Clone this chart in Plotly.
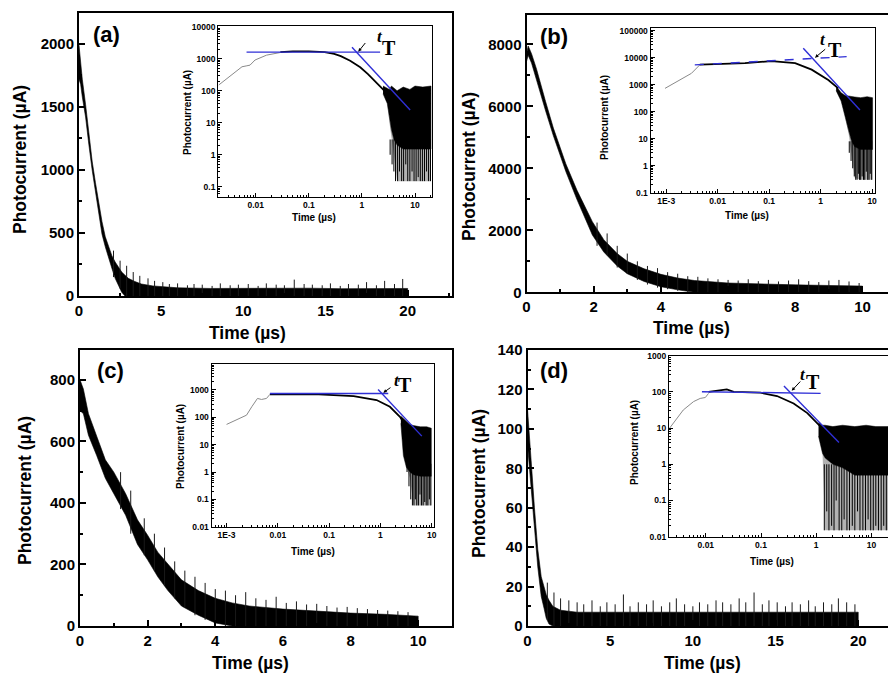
import plotly.graph_objects as go

W, H = 888, 675
FONT = "Liberation Sans"
SERIF = "Liberation Serif"
BLUE = "#2f2fd6"

# ---------------- main panels: decays as core envelopes (time, upper, lower) + noise spikes ----------------
a_t = [0, 0.1, 0.2, 0.4, 0.6, 0.8, 1.0, 1.2, 1.4, 1.6, 1.8, 2.0, 2.2, 2.4, 2.6, 2.8, 3.0, 3.4, 3.8,
       4.5, 6, 8, 10, 12, 14, 16, 18, 20]
a_up = [1990, 1850, 1720, 1520, 1280, 1070, 900, 730, 590, 470, 400, 320, 270, 230, 190, 165, 140, 115, 95,
        80, 65, 60, 62, 60, 62, 58, 60, 60]
a_lo = [1720, 1680, 1580, 1420, 1200, 1000, 830, 650, 490, 390, 300, 220, 140, 80, 30, 0, 0, 0, 0,
        0, 0, 0, 0, 0, 0, 0, 0, 0]
a_sp_t = [2.1, 2.5, 2.9, 3.3, 3.7, 4.2, 4.6, 5.1, 5.5, 6.0, 6.6, 7.0, 7.5, 8.1, 8.6, 9.2, 9.7, 10.3,
          10.9, 11.4, 12.0, 12.5, 13.1, 13.7, 14.2, 14.8, 15.3, 15.9, 16.4, 17.0, 17.5, 18.1, 18.6,
          19.2, 19.7]
a_sp_lo = [150, 60, 0, 0, 0, 0, 0, 0, 0, 0, 0, 0, 0, 0, 0, 0, 0, 0, 0, 0,
           0, 0, 0, 0, 0, 0, 0, 0, 0, 0, 0, 0, 0, 0, 0]
a_sp_h = [360, 280, 240, 190, 160, 140, 120, 110, 95, 100, 85, 95, 90, 80, 100, 85, 90, 95, 80, 100,
          90, 85, 130, 95, 90, 85, 100, 80, 95, 90, 110, 85, 120, 95, 135]

b_t = [0, 0.05, 0.15, 0.3, 0.57, 0.8, 1.17, 1.5, 1.96, 2.3, 2.7, 3.0, 3.5, 4.0, 4.5, 5, 6, 7, 8, 9, 10]
b_up = [7700, 7950, 7700, 7200, 6150, 5300, 4150, 3300, 2280, 1700, 1250, 1000, 760, 580, 460, 380, 300,
        260, 240, 220, 200]
b_lo = [7450, 7650, 7400, 6850, 5850, 5050, 3900, 3000, 1850, 1300, 850, 600, 350, 180, 80, 0, 0, 0, 0, 0, 0]
b_sp_t = [2.1, 2.4, 2.7, 3.0, 3.3, 3.6, 3.9, 4.2, 4.5, 4.8, 5.1, 5.4, 5.7, 6.0, 6.3, 6.6, 6.9, 7.2, 7.5,
          7.8, 8.1, 8.4, 8.7, 9.0, 9.3, 9.6, 9.9]
b_sp_lo = [1500, 1200, 800, 600, 400, 250, 150, 100, 50, 0, 0, 0, 0, 0, 0, 0, 0, 0, 0,
           0, 0, 0, 0, 0, 0, 0, 0]
b_sp_h = [2250, 1900, 1500, 1250, 1000, 850, 780, 650, 600, 520, 500, 450, 420, 400, 380, 420, 360, 400,
          350, 380, 420, 360, 330, 380, 400, 350, 300]

c_t = [0, 0.1, 0.25, 0.49, 0.75, 1.0, 1.35, 1.7, 2.0, 2.3, 2.6, 3.0, 3.5, 4.0, 4.5, 5, 6, 7, 8, 9, 10]
c_up = [800, 770, 690, 620, 540, 500, 430, 345, 295, 240, 200, 150, 115, 90, 75, 65, 55, 48, 42, 38, 32]
c_lo = [700, 690, 620, 555, 480, 430, 360, 265, 215, 160, 115, 65, 35, 10, 0, 0, 0, 0, 0, 0, 0]
c_sp_t = [1.2, 1.5, 1.9, 2.2, 2.5, 2.8, 3.1, 3.4, 3.7, 4.0, 4.3, 4.6, 4.9, 5.2, 5.5, 5.8, 6.1, 6.4, 6.7,
          7.0, 7.3, 7.6, 7.9, 8.2, 8.5, 8.8, 9.1, 9.4, 9.7]
c_sp_lo = [380, 300, 230, 180, 130, 90, 60, 35, 20, 0, 0, 0, 0, 0, 0, 0, 0, 0, 0,
           0, 0, 0, 0, 0, 0, 0, 0, 0, 0]
c_sp_h = [500, 440, 350, 300, 255, 210, 180, 160, 140, 120, 115, 100, 110, 90, 85, 95, 75, 80, 70, 72,
          65, 60, 62, 58, 55, 52, 50, 48, 45]

d_t = [0, 0.1, 0.22, 0.42, 0.62, 0.83, 1.0, 1.13, 1.3, 1.53, 2, 3, 4, 6, 8, 10, 12, 14, 16, 18, 20]
d_up = [110, 100, 84, 60, 39, 25, 20, 16, 13, 10, 8, 7, 7, 7, 7, 7, 7, 7, 7, 7, 7]
d_lo = [92, 85, 74, 50, 30, 15, 9, 4, 1, 0, 0, 0, 0, 0, 0, 0, 0, 0, 0, 0, 0]
d_sp_t = [1.2, 1.6, 2.0, 2.5, 3.0, 3.4, 3.9, 4.4, 4.8, 5.3, 5.8, 6.2, 6.7, 7.2, 7.6, 8.1, 8.6, 9.0, 9.5,
          10.0, 10.4, 10.9, 11.4, 11.8, 12.3, 12.8, 13.2, 13.7, 14.2, 14.6, 15.1, 15.6, 16.0, 16.5,
          17.0, 17.4, 17.9, 18.4, 18.8, 19.3, 19.8]
d_sp_lo = [3, 0, 0, 0, 0, 0, 0, 0, 0, 0, 0, 0, 0, 0, 0, 0, 0, 0, 0, 0, 0,
           0, 0, 0, 0, 0, 0, 0, 0, 0, 0, 0, 0, 0, 0, 0, 0, 0, 0, 0, 0]
d_sp_h = [22, 17, 14, 13, 12, 11, 13, 10, 12, 11, 16, 10, 12, 11, 13, 10, 12, 14, 11, 10, 12, 11, 13,
          12, 11, 14, 12, 17, 11, 13, 12, 10, 12, 11, 13, 10, 12, 11, 14, 12, 11]

# ---------------- insets (log-log) ----------------
ia_gray_t = [0.002, 0.0038, 0.0055, 0.0068, 0.0078, 0.0097, 0.016, 0.029]
ia_gray_i = [150, 350, 560, 600, 630, 910, 1290, 1560]
ia_blk_t = [0.029, 0.05, 0.1, 0.2, 0.3, 0.4, 0.6, 0.93, 1.3, 1.66, 2.2, 2.75]
ia_blk_i = [1600, 1700, 1680, 1600, 1420, 1200, 860, 540, 330, 215, 140, 94]
ia_band_t = [2.5, 3.0, 3.3, 3.6, 4.0, 4.6, 6, 8, 10, 14, 20]
ia_band_up = [140, 120, 110, 140, 120, 100, 130, 110, 140, 130, 140]
ia_core_lo = [80, 40, 15, 6, 3, 2, 1.5, 1.5, 1.5, 1.5, 1.5]
ia_band_lo = [80, 40, 10, 3, 1, 0.15, 0.15, 0.15, 0.15, 0.15, 0.15]
ia_nd_t = [3.1, 3.4, 3.7, 4.0, 4.3, 4.7, 5.1, 5.6, 6.1, 6.7, 7.3, 8.0, 8.8, 9.6, 10.5, 11.5, 12.6,
           13.8, 15.1, 16.5, 18.0, 19.6]
ia_nd_lo = [3, 1, 0.5, 0.3, 0.15, 0.15, 0.3, 0.15, 0.15, 0.5, 0.15, 0.15, 0.3, 0.15, 0.15, 0.2, 0.15,
            0.15, 0.15, 0.3, 0.15, 0.15]
ia_fit1_t, ia_fit1_i = [0.0067, 2.2], [1600, 1600]
ia_fit2_t, ia_fit2_i = [0.65, 8.1], [2270, 25]

ib_gray_t = [0.00095, 0.0023, 0.0031, 0.0045]
ib_gray_i = [730, 1970, 2630, 5400]
ib_blk_t = [0.0045, 0.034, 0.112, 0.32, 0.67, 1.41, 2.2]
ib_blk_i = [5500, 6300, 7500, 6300, 3600, 1480, 730]
ib_band_t = [2.0, 2.5, 3.0, 3.5, 4.0, 4.6, 6, 8, 10.2]
ib_band_up = [900, 500, 400, 380, 350, 350, 330, 360, 330]
ib_core_lo = [600, 250, 60, 20, 8, 5, 4, 4, 4]
ib_band_lo = [600, 250, 60, 15, 2, 0.35, 0.3, 0.3, 0.3]
ib_nd_t = [3.6, 3.9, 4.2, 4.5, 4.8, 5.1, 5.4, 5.7, 6.0, 6.4, 6.8, 7.2, 7.7, 8.2, 8.7, 9.2, 9.8]
ib_nd_lo = [3, 1.5, 0.8, 0.4, 0.3, 0.3, 0.5, 0.3, 0.3, 0.4, 0.3, 0.3, 0.6, 0.3, 0.3, 0.5, 0.3]
ib_fit1_t, ib_fit1_i = [0.0036, 3.2], [5400, 10900]
ib_fit2_t, ib_fit2_i = [0.46, 5.8], [22400, 115]

ic_gray_t = [0.001, 0.00245, 0.0031, 0.004, 0.0048, 0.006, 0.007]
ic_gray_i = [55, 120, 243, 490, 450, 490, 690]
ic_blk_t = [0.007, 0.05, 0.3, 0.84, 1.53, 2.4, 3.2]
ic_blk_i = [690, 700, 600, 430, 243, 105, 45]
ic_band_t = [2.5, 2.8, 3.2, 3.76, 4.4, 6, 8, 9.8]
ic_band_up = [110, 90, 70, 55, 50, 45, 45, 40]
ic_core_lo = [60, 4, 1.5, 1, 0.8, 0.7, 0.7, 0.7]
ic_band_lo = [60, 4, 1.5, 0.6, 0.06, 0.06, 0.06, 0.06]
ic_nd_t = [3.3, 3.6, 3.9, 4.2, 4.5, 4.8, 5.1, 5.5, 5.9, 6.3, 6.8, 7.3, 7.8, 8.4, 9.0, 9.6]
ic_nd_lo = [1, 0.3, 0.1, 0.06, 0.06, 0.1, 0.06, 0.06, 0.15, 0.06, 0.06, 0.08, 0.06, 0.06, 0.1, 0.06]
ic_fit1_t, ic_fit1_i = [0.007, 1.42], [740, 740]
ic_fit2_t, ic_fit2_i = [0.9, 6.4], [1050, 20.5]

id_gray_t = [0.0022, 0.0039, 0.006, 0.0079, 0.0098, 0.0112]
id_gray_i = [9.9, 31.6, 54, 66, 70, 91]
id_blk_t = [0.0112, 0.024, 0.032, 0.097, 0.195, 0.39, 0.69, 1.04, 1.58]
id_blk_i = [100, 118, 100, 95, 77, 48, 26, 13.6, 7.2]
id_band_t = [1.1, 1.3, 1.45, 2, 3, 5, 8, 12, 20]
id_band_up = [14, 12, 12, 11, 12, 11, 12, 11, 11]
id_core_lo = [6, 2, 1.5, 1, 0.8, 0.5, 0.5, 0.5, 0.5]
id_band_lo = [6, 2, 0.015, 0.015, 0.015, 0.015, 0.015, 0.015, 0.015]
id_nd_t = [1.4, 1.55, 1.7, 1.9, 2.1, 2.3, 2.6, 2.9, 3.2, 3.6, 4.0, 4.5, 5.0, 5.6, 6.2, 7.0, 7.8, 8.7,
           9.7, 10.8, 12, 13.4, 15, 16.7, 18.6]
id_nd_lo = [0.015, 0.05, 0.015, 0.02, 0.015, 0.1, 0.015, 0.015, 0.03, 0.015, 0.015, 0.02, 0.015, 0.05,
            0.015, 0.015, 0.015, 0.03, 0.015, 0.015, 0.02, 0.015, 0.015, 0.02, 0.015]
id_fit1_t, id_fit1_i = [0.0085, 1.2], [101, 91]
id_fit2_t, id_fit2_i = [0.26, 2.58], [146, 4.0]


def fx(p):
    return p / W


def fy(p):
    return 1 - p / H


fig = go.Figure()


def band(t, up, lo, n, color="black", lw=0.6):
    fig.add_trace(go.Scatter(x=list(t) + list(t[::-1]), y=list(up) + list(lo[::-1]),
                             fill="toself", fillcolor=color, mode="lines",
                             line=dict(color=color, width=lw), xaxis=f"x{n}", yaxis=f"y{n}",
                             showlegend=False, hoverinfo="skip"))


def needles(t, lo, hi, n, color="black", width=1):
    xs, ys = [], []
    for ti, l, h in zip(t, lo, hi):
        xs += [ti, ti, None]
        ys += [l, h, None]
    fig.add_trace(go.Scatter(x=xs, y=ys, mode="lines", line=dict(color=color, width=width),
                             xaxis=f"x{n}", yaxis=f"y{n}", showlegend=False, hoverinfo="skip"))


def line(t, i, n, color, width, dash="solid"):
    fig.add_trace(go.Scatter(x=t, y=i, mode="lines", line=dict(color=color, width=width, dash=dash),
                             xaxis=f"x{n}", yaxis=f"y{n}", showlegend=False, hoverinfo="skip"))


# main panels: 1=(a), 3=(b), 5=(c), 7=(d)
for (n, t, up, lo, st, sl, sh) in [(1, a_t, a_up, a_lo, a_sp_t, a_sp_lo, a_sp_h),
                                   (3, b_t, b_up, b_lo, b_sp_t, b_sp_lo, b_sp_h),
                                   (5, c_t, c_up, c_lo, c_sp_t, c_sp_lo, c_sp_h),
                                   (7, d_t, d_up, d_lo, d_sp_t, d_sp_lo, d_sp_h)]:
    band(t, up, lo, n)
    needles(st, sl, sh, n, color="#1a1a1a")

# insets: 2, 4, 6, 8
insets = [
    (2, ia_gray_t, ia_gray_i, ia_blk_t, ia_blk_i, ia_band_t, ia_band_up, ia_core_lo, ia_band_lo,
     ia_nd_t, ia_nd_lo, 3, ia_fit1_t, ia_fit1_i, ia_fit2_t, ia_fit2_i, "solid"),
    (4, ib_gray_t, ib_gray_i, ib_blk_t, ib_blk_i, ib_band_t, ib_band_up, ib_core_lo, ib_band_lo,
     ib_nd_t, ib_nd_lo, 8, ib_fit1_t, ib_fit1_i, ib_fit2_t, ib_fit2_i, "dash"),
    (6, ic_gray_t, ic_gray_i, ic_blk_t, ic_blk_i, ic_band_t, ic_band_up, ic_core_lo, ic_band_lo,
     ic_nd_t, ic_nd_lo, 2, ic_fit1_t, ic_fit1_i, ic_fit2_t, ic_fit2_i, "solid"),
    (8, id_gray_t, id_gray_i, id_blk_t, id_blk_i, id_band_t, id_band_up, id_core_lo, id_band_lo,
     id_nd_t, id_nd_lo, 1, id_fit1_t, id_fit1_i, id_fit2_t, id_fit2_i, "solid"),
]
for (n, gt, gi, bt, bi, nt, nu, ncl, nl, ndt, ndl, ndh, f1t, f1i, f2t, f2i, dsh) in insets:
    line(gt, gi, n, "#8a8a8a", 1)
    line(bt, bi, n, "black", 1.8)
    band(nt, ncl, nl, n, color="rgba(0,0,0,0.3)", lw=0)
    needles(ndt, ndl, [ndh] * len(ndt), n, color="black", width=1)
    band(nt, nu, ncl, n, lw=0.5)
    line(f1t, f1i, n, BLUE, 1.4, dsh)
    line(f2t, f2i, n, BLUE, 1.4)

layout = dict(width=W, height=H, margin=dict(l=0, r=0, t=0, b=0, autoexpand=False),
              paper_bgcolor="white", plot_bgcolor="white", showlegend=False)


def main_axes(n, xd, yd, xr, yr, xdt, xmn, ydt, ymn, ymirror=True):
    kx = "xaxis" if n == 1 else f"xaxis{n}"
    ky = "yaxis" if n == 1 else f"yaxis{n}"
    tf = dict(family=FONT, size=15, color="black", weight="bold")
    layout[kx] = dict(domain=[fx(xd[0]), fx(xd[1])], range=xr, anchor=f"y{n}",
                      showline=True, linecolor="black", linewidth=2, mirror=True,
                      ticks="inside", ticklen=6, tickwidth=1.5, tickcolor="black",
                      tick0=0, dtick=xdt, showgrid=False, zeroline=False, tickfont=tf,
                      minor=dict(ticks="inside", ticklen=3, tickcolor="black", dtick=xmn, tick0=0))
    layout[ky] = dict(domain=[fy(yd[1]), fy(yd[0])], range=yr, anchor=f"x{n}",
                      showline=True, linecolor="black", linewidth=2, mirror=ymirror,
                      ticks="inside", ticklen=6, tickwidth=1.5, tickcolor="black",
                      tick0=0, dtick=ydt, showgrid=False, zeroline=False, tickfont=tf,
                      minor=dict(ticks="inside", ticklen=3, tickcolor="black", dtick=ymn, tick0=0))


main_axes(1, (79, 452), (13, 296), [0, 22.7], [0, 2245], 5, 2.5, 500, 250)
main_axes(3, (526.5, 888), (15, 292.3), [0, 10.76], [0, 8950], 2, 1, 2000, 1000, ymirror=False)
main_axes(5, (80, 452), (350, 626), [0, 11.0], [0, 897], 2, 1, 200, 100)
main_axes(7, (527.5, 888), (350, 626), [0, 21.8], [0, 140], 5, 2.5, 20, 10, ymirror=False)

minor_vals = [m * 10 ** k for k in range(-4, 6) for m in range(2, 10)]


def fmt(v):
    if v == 0.001:
        return "1E-3"
    if v >= 1:
        return str(int(v))
    return ("%g" % v)


def inset_axes(n, xd, yd, xlr, ylr, xticks, yticks, ymirror=True):
    tf = dict(family=FONT, size=8.5, color="black", weight="bold")
    layout[f"xaxis{n}"] = dict(domain=[fx(xd[0]), fx(xd[1])], range=xlr, type="log", anchor=f"y{n}",
                               showline=True, linecolor="black", linewidth=1.3, mirror=True,
                               ticks="inside", ticklen=4, tickcolor="black",
                               tickvals=xticks, ticktext=[fmt(v) for v in xticks],
                               showgrid=False, zeroline=False, tickfont=tf,
                               minor=dict(ticks="inside", ticklen=2, tickcolor="black",
                                          tickvals=minor_vals))
    layout[f"yaxis{n}"] = dict(domain=[fy(yd[1]), fy(yd[0])], range=ylr, type="log", anchor=f"x{n}",
                               showline=True, linecolor="black", linewidth=1.3, mirror=ymirror,
                               ticks="inside", ticklen=4, tickcolor="black",
                               tickvals=yticks, ticktext=[fmt(v) for v in yticks],
                               showgrid=False, zeroline=False, tickfont=tf,
                               minor=dict(ticks="inside", ticklen=2, tickcolor="black",
                                          tickvals=minor_vals))


inset_axes(2, (218.3, 432.3), (25.7, 196.7), [-2.706, 1.326], [-1.31, 4.03],
           [0.01, 0.1, 1, 10], [0.1, 1, 10, 100, 1000, 10000])
inset_axes(4, (650.7, 874.7), (27.7, 192.7), [-3.30, 1.05], [-1.0, 5.11],
           [0.001, 0.01, 0.1, 1, 10], [0.1, 1, 10, 100, 1000, 10000, 100000])
inset_axes(6, (211.7, 434.3), (364, 526.7), [-3.29, 1.05], [-2.0, 3.95],
           [0.001, 0.01, 0.1, 1, 10], [0.01, 0.1, 1, 10, 100, 1000])
inset_axes(8, (669, 888), (355.7, 536.7), [-2.667, 1.30], [-2.0, 3.0],
           [0.01, 0.1, 1, 10], [0.01, 0.1, 1, 10, 100, 1000], ymirror=False)

fig.update_layout(**layout)

ann = []


def text(x, y, s, size, angle=0, family=FONT, bold=True, italic=False):
    ann.append(dict(x=fx(x), y=fy(y), xref="paper", yref="paper", text=s, showarrow=False,
                    textangle=angle, xanchor="center", yanchor="middle",
                    font=dict(family=family, size=size, color="black",
                              weight="bold" if bold else "normal",
                              style="italic" if italic else "normal")))


# panel labels
text(106, 35, "(a)", 22)
text(554, 36, "(b)", 22)
text(110, 370, "(c)", 22)
text(554, 371, "(d)", 22)

# main axis titles
text(248, 333, "Time (µs)", 17.5)
text(691, 328, "Time (µs)", 17.5)
text(250, 663, "Time (µs)", 17.5)
text(702, 663, "Time (µs)", 17.5)
text(20, 160, "Photocurrent (µA)", 17.5, angle=-90)
text(469, 167, "Photocurrent (µA)", 17.5, angle=-90)
text(25, 491, "Photocurrent (µA)", 17.5, angle=-90)
text(479, 484, "Photocurrent (µA)", 17.5, angle=-90)

# inset axis titles
text(314, 217, "Time (µs)", 10)
text(747, 215, "Time (µs)", 10)
text(313, 551, "Time (µs)", 10)
text(772, 561, "Time (µs)", 10)
text(187, 113, "Photocurrent (µA)", 10, angle=-90)
text(605, 118, "Photocurrent (µA)", 10, angle=-90)
text(180, 447, "Photocurrent (µA)", 10, angle=-90)
text(634, 443, "Photocurrent (µA)", 10, angle=-90)

# t_T labels and arrows
tT = [((380, 36), (389, 48), (366.5, 41.5), (358.3, 51.7)),
      ((823.3, 40), (835, 50), (826.7, 48), (815, 57.7)),
      ((396.7, 380), (405, 385), (392, 386.5), (383.3, 392.7)),
      ((802.7, 374), (813.3, 381.7), (801.7, 380), (791.7, 390.7))]
for (tp, Tp, tail, head) in tT:
    text(tp[0], tp[1], "t", 17, family=SERIF, italic=True)
    text(Tp[0], Tp[1], "T", 20, family=SERIF)
    ann.append(dict(x=fx(head[0]), y=fy(head[1]), xref="paper", yref="paper", text="",
                    showarrow=True, ax=tail[0] - head[0], ay=tail[1] - head[1],
                    arrowhead=2, arrowsize=0.7, arrowwidth=1, arrowcolor="black"))

fig.update_layout(annotations=ann)
fig.write_html("out.html", config={"displayModeBar": False},
               post_script="document.body.style.margin='0px';document.body.style.overflow='hidden';")
